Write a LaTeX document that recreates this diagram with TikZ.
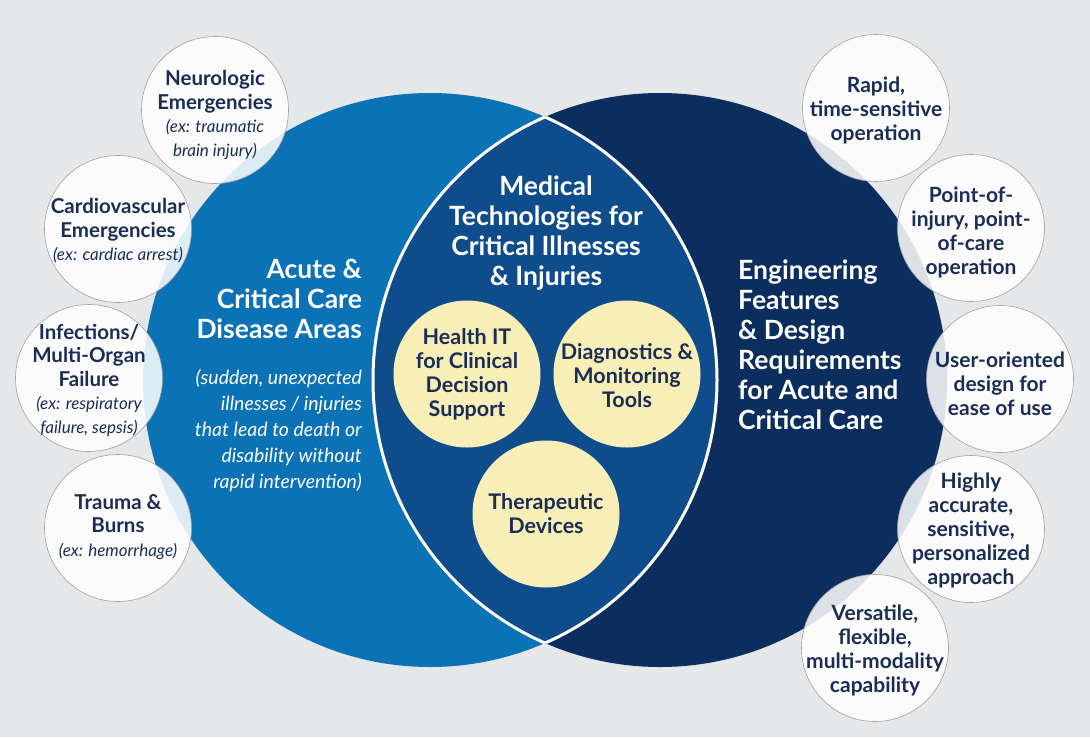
\documentclass[tikz,border=0pt]{standalone}
\usepackage{fontspec}
\setmainfont{Lato}
\definecolor{bg}{HTML}{E6E7E8}
\definecolor{lblue}{HTML}{0B72B5}
\definecolor{dblue}{HTML}{0B2E5E}
\definecolor{mblue}{HTML}{0E4C8C}
\definecolor{navy}{HTML}{1B2D55}
\definecolor{cream}{HTML}{F8EFB8}
\definecolor{rim}{HTML}{A0A0A0}
\newcommand{\exl}[1]{{\fontsize{17}{22}\selectfont\itshape\mdseries #1}}
\tikzset{
  sc/.style={circle, fill=white, fill opacity=0.86, draw=rim, line width=0.6pt,
    minimum size=147pt, inner sep=0pt},
  sctxt/.style={inner sep=0pt, align=center, text=navy,
    font=\fontsize{20.5}{23.5}\selectfont\bfseries},
  scrtxt/.style={sctxt, font=\fontsize{21}{24}\selectfont\bfseries},
  yc/.style={circle, fill=cream, minimum size=147pt, inner sep=0pt},
  yctxt/.style={inner sep=0pt, align=center, text=navy,
    font=\fontsize{21.5}{24}\selectfont\bfseries},
  bigtxt/.style={text=white, inner sep=0pt, font=\fontsize{26.5}{30}\selectfont\bfseries},
  subtxt/.style={text=white, inner sep=0pt, font=\fontsize{19.5}{26}\selectfont\itshape}
}
\begin{document}
\begin{tikzpicture}[x=1pt,y=-1pt]
\fill[bg] (0,0) rectangle (1090,737);
\useasboundingbox (0,0) rectangle (1090,737);
% big circles
\fill[lblue] (430,380) circle (287pt);
\fill[dblue] (660,380) circle (287pt);
\begin{scope}
  \clip (430,380) circle (287pt);
  \fill[mblue] (660,380) circle (287pt);
  \draw[white, line width=3pt] (660,380) circle (287pt);
\end{scope}
\begin{scope}
  \clip (660,380) circle (287pt);
  \draw[white, line width=3pt] (430,380) circle (287pt);
\end{scope}
% central texts
\node[bigtxt, align=center] (med) at (546,233) {Medical\\Technologies for\\Critical Illnesses\\\& Injuries};
\node[bigtxt, align=right, anchor=east] (acute) at (362,299) {Acute \&\\Critical Care\\Disease Areas};
\node[subtxt, align=right, anchor=east] (sudden) at (362,431) {(sudden, unexpected\\illnesses / injuries\\that lead to death or\\disability without\\rapid intervention)};
\node[bigtxt, align=left, anchor=west] (eng) at (738,345) {Engineering\\Features\\\& Design\\Requirements\\for Acute and\\Critical Care};
% yellow circles
\node[yc] (hit) at (467,374) {};
\node[yctxt] (hitt) at (467,374) {Health IT\\for Clinical\\Decision\\Support};
\node[yc] (diag) at (627,374) {};
\node[yctxt] (diagt) at (627,376) {Diagnostics \&\\Monitoring\\Tools};
\node[yc] (ther) at (546,514) {};
\node[yctxt] (thert) at (546,514) {Therapeutic\\Devices};
% left small circles
\node[sc] (neuro) at (215,110) {};
\node[sctxt] (neurot) at (215,115) {Neurologic\\Emergencies\\\exl{(ex: traumatic}\\\exl{brain injury)}};
\node[sc] (cardio) at (118,229) {};
\node[sctxt] (cardiot) at (118,231) {Cardiovascular\\Emergencies\\\exl{(ex: cardiac arrest)}};
\node[sc] (infec) at (89,378) {};
\node[sctxt] (infect) at (89,380) {Infections/\\Multi-Organ\\Failure\\\exl{(ex: respiratory}\\\exl{failure, sepsis)}};
\node[sc] (trauma) at (118,528) {};
\node[sctxt] (traumat) at (118,527) {Trauma \&\\Burns\\\exl{(ex: hemorrhage)}};
% right small circles
\node[sc] (rapid) at (876,108) {};
\node[scrtxt] (rapidt) at (876,110) {Rapid,\\time-sensitive\\operation};
\node[sc] (poi) at (971,228) {};
\node[scrtxt] (poit) at (971,232) {Point-of-\\injury, point-\\of-care\\operation};
\node[sc] (user) at (1000,379) {};
\node[scrtxt] (usert) at (1000,384) {User-oriented\\design for\\ease of use};
\node[sc] (acc) at (971,529) {};
\node[scrtxt] (acct) at (971,530) {Highly\\accurate,\\sensitive,\\personalized\\approach};
\node[sc] (vers) at (875,648) {};
\node[scrtxt] (verst) at (875,650) {Versatile,\\flexible,\\multi-modality\\capability};
\end{tikzpicture}
\end{document}
